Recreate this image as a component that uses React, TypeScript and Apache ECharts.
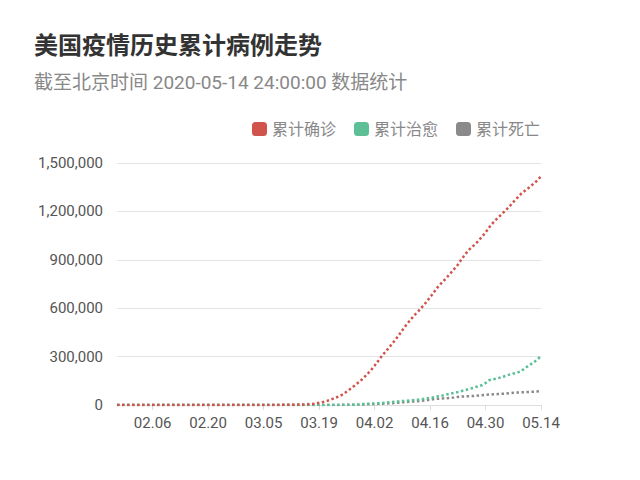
import React, { useRef, useEffect } from "react";
import * as echarts from "echarts";

const TITLE = "美国疫情历史累计病例走势";
const SUBTITLE = "截至北京时间 2020-05-14 24:00:00 数据统计";
const SERIES_NAMES = ["累计确诊", "累计治愈", "累计死亡"];
const COLORS = ["#d0544b", "#5cbf96", "#8a8a8a"];

// 01.28 .. 05.14, one point per day
const START = { month: 1, day: 28 };
const MONTH_DAYS = [31, 29, 31, 30, 31];
const DAY_COUNT = 108;

const dates: string[] = [];
{
  let m = START.month;
  let d = START.day;
  for (let i = 0; i < DAY_COUNT; i++) {
    dates.push(`${String(m).padStart(2, "0")}.${String(d).padStart(2, "0")}`);
    d++;
    if (d > MONTH_DAYS[m - 1]) {
      d = 1;
      m++;
    }
  }
}

const confirmed = [
  5, 5, 6, 7,
  8, 8, 11, 11, 11, 12, 12, 12, 12, 12, 13, 13, 14, 15, 15, 15, 15, 15, 15, 15,
  35, 35, 35, 53, 57, 60, 60, 62, 68,
  74, 98, 118, 149, 217, 262, 402, 518, 583, 959, 1281, 1663, 2179, 2727, 3499,
  4632, 6421, 7786, 13680, 19101, 25493, 33276, 43847, 53740, 65778, 83836,
  101657, 121465, 140909, 161831, 188172,
  213242, 243622, 275367, 308650, 336802, 366317, 397121, 428654, 462780, 496535,
  526396, 555313, 580619, 607670, 636350, 667801, 699706, 732197, 759086, 784326,
  811865, 840351, 869170, 905358, 938154, 965785, 988197, 1012582, 1039909, 1069424,
  1103461, 1132539, 1158040, 1180375, 1204351, 1229331, 1257023, 1283929, 1309550,
  1329260, 1347881, 1369376, 1390406, 1417774,
];

const recovered = [
  0, 0, 0, 0,
  0, 0, 0, 0, 0, 0, 0, 0, 3, 3, 3, 3, 3, 3, 3, 3, 3, 3, 3, 3,
  5, 5, 5, 5, 6, 6, 6, 7, 7,
  7, 7, 7, 7, 7, 8, 8, 8, 8, 8, 8, 12, 12, 12, 12,
  17, 17, 106, 108, 147, 171, 178, 178, 348, 361, 681,
  869, 1072, 2612, 5644, 7024,
  8474, 9707, 11000, 12500, 14500, 17000, 19500, 22000, 24500, 26500,
  29000, 31000, 33000, 36000, 40000, 44000, 48000, 54000, 58000, 65000,
  70000, 75000, 80000, 87000, 93000, 100000, 107000, 115000, 122000, 136000,
  155000, 160000, 165000, 172000, 180000, 188000, 195000, 200000, 210000,
  230000, 245000, 262000, 280000, 305000,
];

const deaths = [
  0, 0, 0, 0,
  0, 0, 0, 0, 0, 0, 0, 0, 0, 0, 0, 0, 0, 0, 0, 0, 0, 0, 0, 0,
  0, 0, 0, 0, 0, 0, 0, 0, 1,
  1, 6, 7, 11, 12, 14, 17, 21, 22, 28, 36, 40, 47, 54, 63,
  85, 108, 118, 200, 244, 307, 427, 552, 706, 942, 1209,
  1581, 2026, 2467, 2978, 3873,
  4757, 5926, 7087, 8407, 9619, 10783, 12722, 14695, 16478, 18586,
  20463, 22020, 23529, 25832, 28325, 32916, 36773, 38664, 40661, 42094,
  44444, 46622, 49954, 51949, 53755, 54881, 56259, 58355, 60967, 62996,
  64943, 66369, 67682, 68922, 71064, 73431, 75662, 77180, 78795,
  79526, 80682, 82376, 84119, 85898,
];

const Y_MAX = 1500000;
const Y_STEP = 300000;
const FIRST_LABEL = 9; // 02.06
const LABEL_STEP = 14;

const FONT = "Roboto, 'Noto Sans CJK SC', sans-serif";

export default function App() {
  const chartRef = useRef<HTMLDivElement>(null);

  useEffect(() => {
    if (!chartRef.current) return;
    const chart = echarts.init(chartRef.current, undefined, { renderer: "svg" });

    const showLabel = (idx: number) => idx >= FIRST_LABEL && (idx - FIRST_LABEL) % LABEL_STEP === 0;
    const seriesData = [confirmed, recovered, deaths];

    chart.setOption({
      animation: false,
      backgroundColor: "#fff",
      textStyle: { fontFamily: FONT },
      title: [
        {
          text: TITLE,
          left: 34,
          top: 34,
          padding: 0,
          textStyle: { fontSize: 24, fontWeight: "bold", color: "#333", fontFamily: FONT },
        },
        {
          text: SUBTITLE,
          left: 34,
          top: 73,
          padding: 0,
          textStyle: { fontSize: 19, fontWeight: "normal", color: "#888", fontFamily: FONT },
        },
      ],
      legend: {
        right: 100,
        top: 121,
        padding: 0,
        icon: "roundRect",
        itemWidth: 15,
        itemHeight: 14,
        itemGap: 18,
        textStyle: { fontSize: 16, color: "#888", fontFamily: FONT },
        data: SERIES_NAMES,
      },
      grid: { left: 117, right: 99, top: 163, bottom: 75 },
      xAxis: {
        type: "category",
        data: dates,
        boundaryGap: false,
        axisLine: { lineStyle: { color: "#ddd" } },
        axisTick: { interval: (i: number) => showLabel(i), length: 5, lineStyle: { color: "#ddd" } },
        axisLabel: {
          interval: (i: number) => showLabel(i),
          fontSize: 15,
          color: "#555",
          margin: 10,
          fontFamily: FONT,
        },
      },
      yAxis: {
        type: "value",
        min: 0,
        max: Y_MAX,
        interval: Y_STEP,
        axisLine: { show: false },
        axisTick: { show: false },
        axisLabel: {
          fontSize: 15,
          color: "#555",
          margin: 14,
          fontFamily: FONT,
          formatter: (v: number) => v.toLocaleString("en-US"),
        },
        splitLine: { lineStyle: { color: "#e3e3e3" } },
      },
      series: SERIES_NAMES.map((name, i) => ({
        name,
        type: "line",
        data: seriesData[i],
        showSymbol: false,
        symbol: "none",
        itemStyle: { color: COLORS[i] },
        lineStyle: { color: COLORS[i], width: 2.5, type: "dotted" },
        z: 3 - i,
      })),
    });

    return () => chart.dispose();
  }, []);

  return (
    <div
      ref={chartRef}
      style={{ position: "fixed", left: 0, top: 0, width: 640, height: 480 }}
    />
  );
}
